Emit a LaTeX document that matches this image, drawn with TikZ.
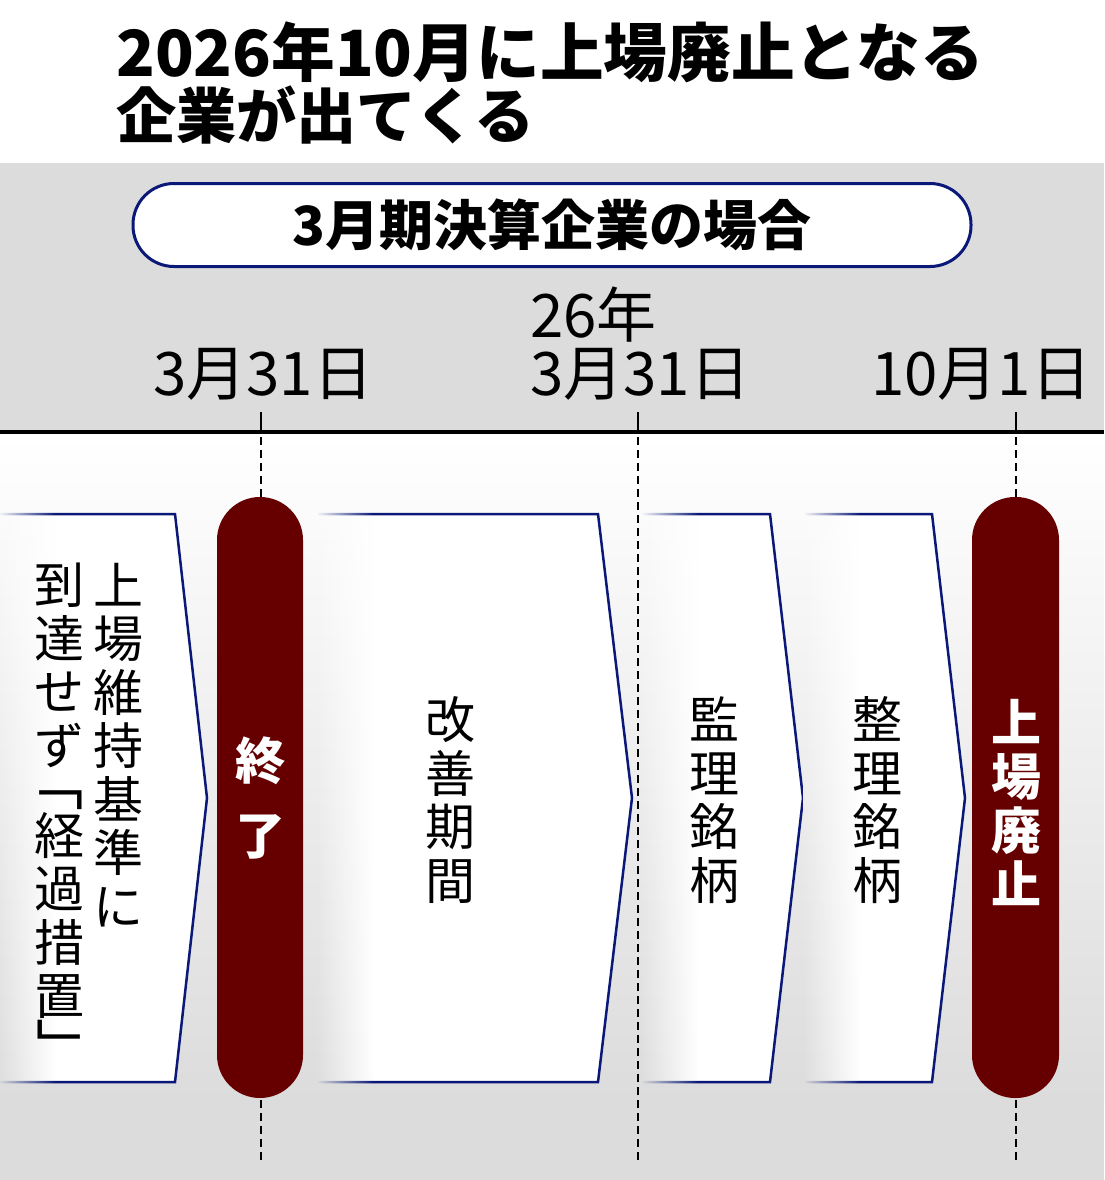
\documentclass[tikz,border=0pt]{standalone}
\usepackage{graphicx}
\usepackage{fontspec}
\setmainfont{Noto Sans CJK JP}
\usetikzlibrary{fadings}
\definecolor{bggray}{RGB}{220,220,220}
\definecolor{navyline}{RGB}{10,25,120}
\definecolor{pillred}{RGB}{102,0,0}
\newcommand\chevron[3]{%
  \fill[white] (#1,514) -- (#2,514) -- (#3,798) -- (#2,1082) -- (#1,1082) -- cycle;
  \draw[arrowedge] (#1,514) -- (#2,514) -- (#3,798) -- (#2,1082) -- (#1,1082);
  \begin{scope}
    \clip (#1-2,510) rectangle (#1+55,1086);
    \shade[top color=white, bottom color=bggray, path fading=east] (#1-2,434) rectangle (#1+55,1100);
  \end{scope}
}
\begin{document}
\begin{tikzpicture}[x=1pt,y=-1pt,
  vtext/.style={font=\fontsize{50}{53.5}\selectfont, align=center, inner sep=0pt},
  bracket/.style={font=\fontsize{60}{64}\selectfont, inner sep=0pt},
  pilltext/.style={text=white, font=\bfseries\fontsize{50}{54}\selectfont, align=center, inner sep=0pt},
  datelabel/.style={font=\fontsize{60}{66}\selectfont, inner sep=0pt, anchor=base west},
  arrowedge/.style={draw=navyline, line width=2.5pt, line join=miter},
  pillshape/.style={fill=pillred, rounded corners=43pt},
  guide/.style={line width=2pt, dash pattern=on 8pt off 5pt},
  tick/.style={line width=2pt},
  titletext/.style={anchor=base west, inner sep=0pt, font=\bfseries\fontsize{62}{70}\selectfont},
]
\useasboundingbox (0,0) rectangle (1104,1180);
% background
\fill[white] (0,0) rectangle (1104,163);
\fill[bggray] (0,163) rectangle (1104,434);
\shade[top color=white, bottom color=bggray] (0,434) rectangle (1104,1100);
\fill[bggray] (0,1100) rectangle (1104,1180);

% title
\node[titletext] (title1) at (116,77) {\resizebox{868pt}{!}{2026年10月に上場廃止となる}};
\node[titletext] (title2) at (116,139) {\resizebox{418pt}{!}{企業が出てくる}};

% case box
\node[draw=navyline, line width=3pt, fill=white, rounded corners=41pt,
      minimum width=838pt, minimum height=83pt, inner sep=0pt,
      font=\bfseries\fontsize{54}{60}\selectfont] (casebox) at (552,225)
  {3月期決算企業の場合};

% date labels
\node[datelabel] (d1) at (153,395) {3月31日};
\node[datelabel] (d2y) at (530,337) {26年};
\node[datelabel] (d2) at (530,395) {3月31日};
\node[datelabel] (d3) at (871,395) {10月1日};

% timeline
\coordinate (tlL) at (0,432);
\coordinate (tlR) at (1104,432);
\draw[line width=4pt] (tlL) -- (tlR);

\foreach \xx/\nm in {261/a, 638/b, 1016/c} {
  \coordinate (tick\nm) at (\xx,412);
  \coordinate (axis\nm) at (\xx,432);
  \coordinate (gtop\nm) at (\xx,437);
  \coordinate (gbot\nm) at (\xx,1162);
  \draw[tick] (tick\nm) -- (axis\nm);
  \draw[guide] (gtop\nm) -- (gbot\nm);
}

% chevrons
\chevron{0}{175}{207}
\chevron{318}{598}{632}
\chevron{643}{770}{803}
\chevron{805}{932}{965}

% pills
\path[pillshape] (217,497) rectangle (303,1098);
\path[pillshape] (972,497) rectangle (1059,1098);

% texts in chevrons
\node[vtext, anchor=north] (c1r) at (118,563) {上\\場\\維\\持\\基\\準\\に};
\node[vtext, anchor=north] (c1a) at (59,563) {到\\達\\せ\\ず};
\node[bracket, anchor=north east] (lbr) at (84,790) {﹁};
\node[vtext, anchor=north] (c1b) at (59,812) {経\\過\\措\\置};
\node[bracket, anchor=north west] (rbr) at (36,1020) {﹂};
\node[vtext] (c2) at (450,800) {改\\善\\期\\間};
\node[vtext] (c3) at (714,800) {監\\理\\銘\\柄};
\node[vtext] (c4) at (877,800) {整\\理\\銘\\柄};

% pill texts
\node[pilltext] (p1) at (260,798) {終\\[21pt]了};
\node[pilltext] (p2) at (1016,802) {上\\場\\廃\\止};
\end{tikzpicture}
\end{document}
